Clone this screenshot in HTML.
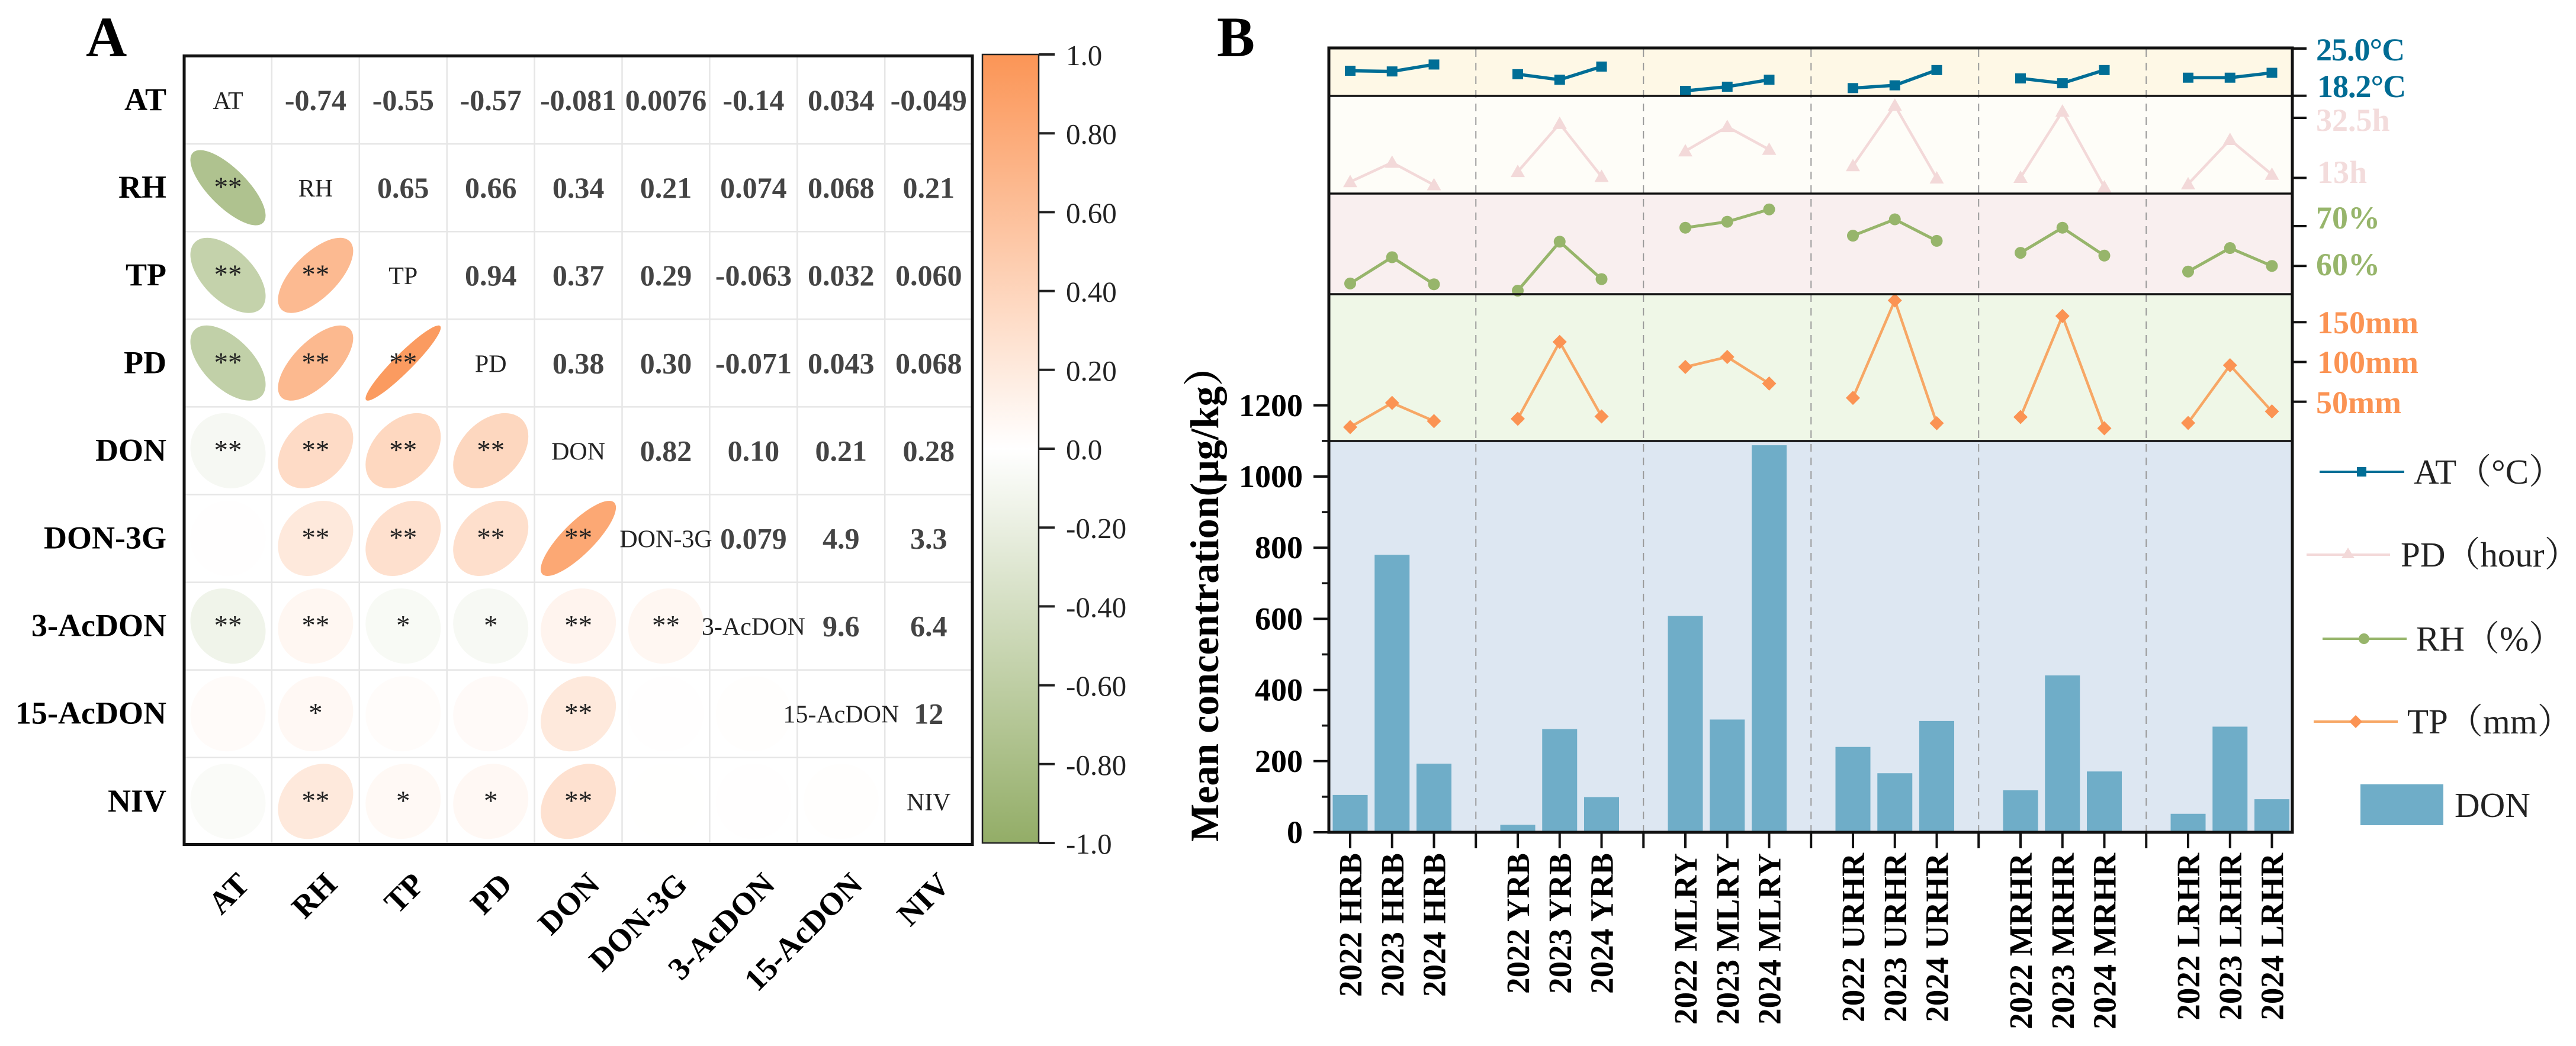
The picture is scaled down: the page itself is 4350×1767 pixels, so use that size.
<!DOCTYPE html>
<html lang="en">
<head>
<meta charset="utf-8">
<title>Correlation matrix and mean DON concentration</title>
<style>
html,body{margin:0;padding:0;background:#fff;width:4350px;height:1767px;overflow:hidden}
svg{display:block}
text{font-family:"Liberation Serif","Noto Serif CJK SC",serif}
.b{font-weight:bold}
</style>
</head>
<body>
<svg id="fig" xmlns="http://www.w3.org/2000/svg" width="4350" height="1767" viewBox="0 0 4350 1767">
<defs>
<linearGradient id="cbar" x1="0" y1="0" x2="0" y2="1">
<stop offset="0" stop-color="#fb9556"/>
<stop offset="0.5" stop-color="#ffffff"/>
<stop offset="1" stop-color="#93ad67"/>
</linearGradient>
</defs>
<text class="b" x="145" y="95" font-size="96" fill="#000">A</text>
<text class="b" x="2055" y="95" font-size="96" fill="#000">B</text>
<g id="panelA"></g>
<g id="cbarG">
<rect x="1659" y="92" width="95" height="1332" fill="url(#cbar)" stroke="#222" stroke-width="2.5"/>
</g>
<g id="panelB"></g>
<g font-size="54" font-weight="bold">
<text x="3911" y="102" fill="#006c94" letter-spacing="-1">25.0°C</text>
<text x="3913" y="164" fill="#006c94" letter-spacing="-1">18.2°C</text>
<text x="3911" y="221" fill="#f3dcdc">32.5h</text>
<text x="3913" y="309" fill="#f3dcdc">13h</text>
<text x="3911" y="386" fill="#97b56b">70%</text>
<text x="3911" y="465" fill="#97b56b">60%</text>
<text x="3913" y="563" fill="#fb9353">150mm</text>
<text x="3913" y="630" fill="#fb9353">100mm</text>
<text x="3911" y="698" fill="#fb9353">50mm</text>
</g>
<g font-size="59" fill="#222">
<g>
<line x1="3917" x2="4060" y1="797" y2="797" stroke="#006e96" stroke-width="4"/>
<rect x="3980" y="789" width="16" height="16" fill="#006e96"/>
<text x="4076" y="817">AT（°C）</text>
</g>
<g>
<line x1="3895" x2="4036" y1="937" y2="937" stroke="#f3d9d9" stroke-width="4"/>
<polygon points="3965,925 3976,943 3954,943" fill="#f3d9d9"/>
<text x="4054" y="957">PD（hour）</text>
</g>
<g>
<line x1="3922" x2="4064" y1="1079" y2="1079" stroke="#97b56b" stroke-width="4"/>
<circle cx="3992" cy="1079" r="9" fill="#97b56b"/>
<text x="4080" y="1099">RH（%）</text>
</g>
<g>
<line x1="3907" x2="4049" y1="1219" y2="1219" stroke="#f7a765" stroke-width="4"/>
<polygon points="3978,1208 3989,1219 3978,1230 3967,1219" fill="#fb9353"/>
<text x="4065" y="1239">TP（mm）</text>
</g>
<g>
<rect x="3986" y="1325" width="140" height="69" fill="#6fadc8"/>
<text x="4145" y="1380">DON</text>
</g>
</g>
</svg>
<script>
// ---------- Panel A data ----------
const variables = ['AT','RH','TP','PD','DON','DON-3G','3-AcDON','15-AcDON','NIV'];
const corrLabels = [
  ['', '-0.74','-0.55','-0.57','-0.081','0.0076','-0.14','0.034','-0.049'],
  ['', '', '0.65','0.66','0.34','0.21','0.074','0.068','0.21'],
  ['', '', '', '0.94','0.37','0.29','-0.063','0.032','0.060'],
  ['', '', '', '', '0.38','0.30','-0.071','0.043','0.068'],
  ['', '', '', '', '', '0.82','0.10','0.21','0.28'],
  ['', '', '', '', '', '', '0.079','4.9','3.3'],
  ['', '', '', '', '', '', '', '9.6','6.4'],
  ['', '', '', '', '', '', '', '', '12'],
  ['', '', '', '', '', '', '', '', '']
];
const corrValues = [
  [],
  [-0.74],
  [-0.55,0.65],
  [-0.57,0.66,0.94],
  [-0.081,0.34,0.37,0.38],
  [0.0076,0.21,0.29,0.30,0.82],
  [-0.14,0.074,-0.063,-0.071,0.10,0.079],
  [0.034,0.068,0.032,0.043,0.21,0.0049,0.0096],
  [-0.049,0.21,0.060,0.068,0.28,0.0033,0.0064,0.012]
];
const corrStars = [
  [],
  ['**'],
  ['**','**'],
  ['**','**','**'],
  ['**','**','**','**'],
  ['','**','**','**','**'],
  ['**','**','*','*','**','**'],
  ['','*','','','**','',''],
  ['','**','*','*','**','','','']
];
const colorbarValues = [1,0.8,0.6,0.4,0.2,0,-0.2,-0.4,-0.6,-0.8,-1];
const colorbarLabels = ['1.0','0.80','0.60','0.40','0.20','0.0','-0.20','-0.40','-0.60','-0.80','-1.0'];

// ---------- Panel B data ----------
const categories = ['2022 HRB','2023 HRB','2024 HRB','2022 YRB','2023 YRB','2024 YRB','2022 MLRY','2023 MLRY','2024 MLRY','2022 URHR','2023 URHR','2024 URHR','2022 MRHR','2023 MRHR','2024 MRHR','2022 LRHR','2023 LRHR','2024 LRHR'];
const donValues = [105,780,193,21,290,99,608,317,1088,240,166,313,118,441,171,52,297,93];
const atValues = [21.8,21.7,22.7,21.3,20.5,22.4,18.9,19.5,20.5,19.3,19.7,21.9,20.7,20.0,21.9,20.8,20.8,21.5];
const pdValues = [11.7,18.0,10.7,15.0,30.6,13.4,21.7,29.6,22.2,16.9,36.5,12.9,13.1,34.6,10.0,11.0,25.4,14.1];
const rhValues = [55.6,62.2,55.4,53.8,66.1,56.7,69.6,71.1,74.2,67.6,71.7,66.3,63.3,69.6,62.6,58.6,64.5,60.0];
const tpValues = [18.1,48.5,25.6,28.5,125.2,31.5,93.7,106.3,72.9,54.8,177.4,23.0,30.7,157.8,16.6,23.3,95.9,37.8];
const donMajorTicks = [0,200,400,600,800,1000,1200];
const donMinorTicks = [100,300,500,700,900,1100];
const atTicks = [25,18.2];
const pdTicks = [32.5,13];
const rhTicks = [70,60];
const tpTicks = [150,100,50];

// ---------- Axis functions ----------
const xA = i => 385 + 147.9 * i;
const yA = j => 169 + 148.1 * j;
const yCbar = v => 758 - 666 * v;
const xB = k => 2280 + 70.75 * k;
const catK = i => i + Math.floor(i / 3);
const yDon = v => 1406 - 0.601 * v;
const yAt = v => 82 + (25 - v) * (79.7 / 6.8);
const yPd = v => 300.5 - (v - 13) * (101.5 / 19.5);
const yRh = v => 449.3 - (v - 60) * 6.73;
const yTp = v => 678.6 - (v - 50) * 1.343;

function corrColor(r) {
  const hi = r >= 0 ? [251,149,86] : [147,173,103];
  const t = Math.min(1, Math.abs(r));
  const c = hi.map(h => Math.round(255 + (h - 255) * t));
  return 'rgb(' + c.join(',') + ')';
}

const NS = 'http://www.w3.org/2000/svg';
function mk(tag, attrs, parent, txt) {
  const el = document.createElementNS(NS, tag);
  for (const k in attrs) el.setAttribute(k, attrs[k]);
  if (txt !== undefined) el.textContent = txt;
  parent.appendChild(el);
  return el;
}

// ---------- Panel A ----------
const pA = document.getElementById('panelA');
for (let i = 1; i < 9; i++) {
  const gv = mk('line', {x1: 311 + 147.9 * i, x2: 311 + 147.9 * i, y1: 95, y2: 1427, stroke: '#e6e6e6', 'stroke-width': 2.5}, pA);
  
  
  const gh = mk('line', {x1: 311, x2: 1642, y1: 95 + 148.1 * i, y2: 95 + 148.1 * i, stroke: '#e6e6e6', 'stroke-width': 2.5}, pA);
  
  
}
const R = 63.5;
corrValues.forEach((row, j) => {
  row.forEach((r, i) => {
    const cx = xA(i), cy = yA(j);
    const a = R * Math.sqrt(1 + Math.abs(r));
    const b = R * Math.sqrt(1 - Math.abs(r));
    const rot = r >= 0 ? -45 : 45;
    const e = mk('ellipse', {cx: cx, cy: cy, rx: a, ry: b, fill: corrColor(r), transform: 'rotate(' + rot + ' ' + cx + ' ' + cy + ')'}, pA);
    
    
  });
});
corrStars.forEach((row, j) => {
  row.forEach((s, i) => {
    if (!s) return;
    const st = mk('text', {x: xA(i), y: yA(j) + 14, 'font-size': 47, 'text-anchor': 'middle', fill: '#222'}, pA, s);
    
    
  });
});
corrLabels.forEach((row, j) => {
  row.forEach((s, i) => {
    if (!s) return;
    const t = mk('text', {x: xA(i), y: yA(j) + 17, 'font-size': 50, 'font-weight': 'bold', 'text-anchor': 'middle', fill: '#444'}, pA, s);
    
    
  });
});
variables.forEach((v, i) => {
  const d = mk('text', {x: xA(i), y: yA(i) + 15, 'font-size': 42, 'text-anchor': 'middle', fill: '#222'}, pA, v);
  
  
  const rl = mk('text', {x: 281, y: yA(i) + 17, 'font-size': 54, 'font-weight': 'bold', 'text-anchor': 'end', fill: '#000'}, pA, v);
  
  
  const ax = xA(i) + 39;
  const cl = mk('text', {x: ax, y: 1497, 'font-size': 54, 'font-weight': 'bold', 'text-anchor': 'end', fill: '#000', transform: 'rotate(-45 ' + ax + ' 1497)'}, pA, v);
  
  
});
const frameA = mk('rect', {x: 311, y: 94.5, width: 1331, height: 1332, fill: 'none', stroke: '#111', 'stroke-width': 5}, pA);



// ---------- Colorbar ----------
const cbG = document.getElementById('cbarG');
colorbarValues.forEach((v, i) => {
  const y = yCbar(v);
  const tk = mk('line', {x1: 1754, x2: 1781, y1: y, y2: y, stroke: '#222', 'stroke-width': 4}, cbG);
  
  
  const lb = mk('text', {x: 1800, y: y + 18, 'font-size': 49, fill: '#222'}, cbG, colorbarLabels[i]);
  
  
});

// ---------- Panel B ----------
const pB = document.getElementById('panelB');
const strips = [
  {name: 'at-strip', top: 81, bottom: 162, fill: '#fef8e6'},
  {name: 'pd-strip', top: 162, bottom: 327, fill: '#fefdf8'},
  {name: 'rh-strip', top: 327, bottom: 497, fill: '#f9efef'},
  {name: 'tp-strip', top: 497, bottom: 745, fill: '#eff7e7'},
  {name: 'bar-strip', top: 745, bottom: 1406, fill: '#dde7f2'}
];
strips.forEach(s => {
  const rc = mk('rect', {x: 2244, y: s.top, width: 1627, height: s.bottom - s.top, fill: s.fill}, pB);
  
  
});
[3,7,11,15,19].forEach(k => {
  const dl = mk('line', {x1: xB(k), x2: xB(k), y1: 83, y2: 1404, stroke: '#9a9a9a', 'stroke-width': 2, 'stroke-dasharray': '13 10'}, pB);
  
  
});
categories.forEach((c, i) => {
  const x = xB(catK(i));
  const y = yDon(donValues[i]);
  const br = mk('rect', {x: x - 29.5, y: y, width: 59, height: 1406 - y, fill: '#6fadc8'}, pB);
  
  
});
function drawSeries(values, yFn, color, markColor, width, shape, name) {
  for (let g = 0; g < values.length; g += 3) {
    const pts = [0,1,2].map(n => xB(catK(g + n)) + ',' + yFn(values[g + n])).join(' ');
    const pl = mk('polyline', {points: pts, fill: 'none', stroke: color, 'stroke-width': width}, pB);
    
    
  }
  values.forEach((v, i) => {
    const x = xB(catK(i)), y = yFn(v);
    let m;
    if (shape === 'square') m = mk('rect', {x: x - 9, y: y - 8.5, width: 18, height: 17, fill: markColor}, pB);
    if (shape === 'triangle') m = mk('polygon', {points: x + ',' + (y - 12) + ' ' + (x + 12) + ',' + (y + 9) + ' ' + (x - 12) + ',' + (y + 9), fill: markColor}, pB);
    if (shape === 'circle') m = mk('circle', {cx: x, cy: y, r: 10, fill: markColor}, pB);
    if (shape === 'diamond') m = mk('polygon', {points: x + ',' + (y - 12) + ' ' + (x + 12) + ',' + y + ' ' + x + ',' + (y + 12) + ' ' + (x - 12) + ',' + y, fill: markColor}, pB);
    
    
  });
}
drawSeries(tpValues, yTp, '#f7a765', '#fb9353', 4.5, 'diamond', 'tp');
drawSeries(rhValues, yRh, '#97b56b', '#97b56b', 5, 'circle', 'rh');
drawSeries(pdValues, yPd, '#f3d9d9', '#f3d9d9', 4.5, 'triangle', 'pd');
drawSeries(atValues, yAt, '#006e96', '#006e96', 5.5, 'square', 'at');
[162,327,497,745].forEach(y => {
  const sp = mk('line', {x1: 2244, x2: 3871, y1: y, y2: y, stroke: '#111', 'stroke-width': 3.5}, pB);
  
  
});
const frameB = mk('rect', {x: 2244, y: 81, width: 1627, height: 1325, fill: 'none', stroke: '#111', 'stroke-width': 5}, pB);


donMajorTicks.forEach(v => {
  const y = yDon(v);
  const t = mk('line', {x1: 2218, x2: 2244, y1: y, y2: y, stroke: '#111', 'stroke-width': 4}, pB);
  
  
  const l = mk('text', {x: 2200, y: y + 18, 'font-size': 54, 'font-weight': 'bold', 'text-anchor': 'end', fill: '#000'}, pB, String(v));
  
  
});
donMinorTicks.forEach(v => {
  const y = yDon(v);
  const t = mk('line', {x1: 2232, x2: 2244, y1: y, y2: y, stroke: '#111', 'stroke-width': 3.5}, pB);
  
  
});
const yTitle = mk('text', {transform: 'translate(2057 1422) rotate(-90)', 'font-size': 68, 'font-weight': 'bold', fill: '#000'}, pB, 'Mean concentration(μg/kg）');


categories.forEach((c, i) => {
  const x = xB(catK(i));
  const t = mk('line', {x1: x, x2: x, y1: 1406, y2: 1433, stroke: '#111', 'stroke-width': 4}, pB);
  
  
  const l = mk('text', {transform: 'translate(' + (x + 19) + ' 1441) rotate(-90)', 'font-size': 55, 'font-weight': 'bold', 'text-anchor': 'end', fill: '#000'}, pB, c);
  
  
});
[3,7,11,15,19].forEach(k => {
  const t = mk('line', {x1: xB(k), x2: xB(k), y1: 1406, y2: 1433, stroke: '#111', 'stroke-width': 4}, pB);
  
  
});
function rightTicks(list, yFn, name) {
  list.forEach(v => {
    const y = yFn(v);
    const t = mk('line', {x1: 3871, x2: 3895, y1: y, y2: y, stroke: '#111', 'stroke-width': 4}, pB);
    
    
  });
}
rightTicks(atTicks, yAt, 'at');
rightTicks(pdTicks, yPd, 'pd');
rightTicks(rhTicks, yRh, 'rh');
rightTicks(tpTicks, yTp, 'tp');
</script>
</body>
</html>
